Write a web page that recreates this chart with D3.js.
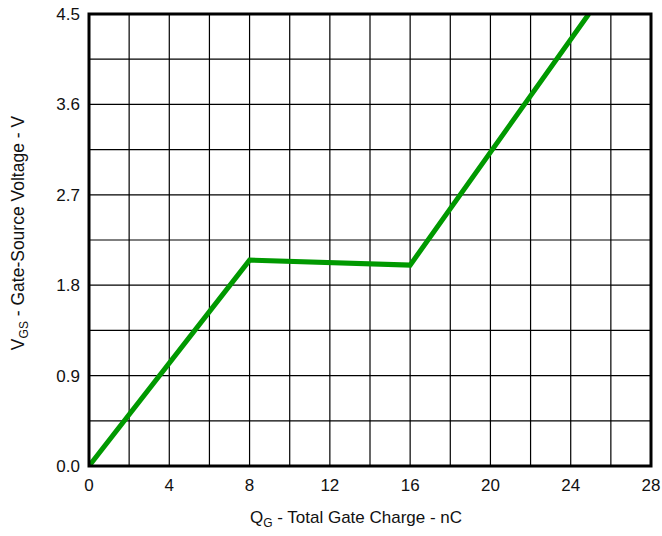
<!DOCTYPE html>
<html>
<head>
<meta charset="utf-8">
<script src="https://cdn.jsdelivr.net/npm/d3@7"></script>
<style>
body { margin: 0; background: #fff; }
text { font-family: "Liberation Sans", Arial, sans-serif; fill: #111; }
</style>
</head>
<body>
<script>
let width = 662
let height = 536
let margin = {top: 14, right: 11, bottom: 70, left: 89}

// gate charge curve
let qg = [0, 8, 16, 24.9]
let vgs = [0, 2.05, 2.0, 4.5]
let xTicks = [0, 4, 8, 12, 16, 20, 24, 28]
let yTicks = [0.0, 0.9, 1.8, 2.7, 3.6, 4.5]

let svg = d3.select("body").append("svg")
    .attr("width", width)
    .attr("height", height)

let pw = width - margin.left - margin.right
let ph = height - margin.top - margin.bottom

let x = d3.scaleLinear().domain([0, 28]).range([margin.left, margin.left + pw])
let y = d3.scaleLinear().domain([0, 4.5]).range([margin.top + ph, margin.top])

let g = svg.append("g")

// grid
g.selectAll(".vg").data(d3.range(2, 28, 2)).enter()
    .append("line")
    .attr("x1", d => x(d)).attr("x2", d => x(d))
    .attr("y1", y(0)).attr("y2", y(4.5))
    .attr("stroke", "#000").attr("stroke-width", 1.2)

g.selectAll(".hg").data(d3.range(1, 10).map(i => i * 0.45)).enter()
    .append("line")
    .attr("x1", x(0)).attr("x2", x(28))
    .attr("y1", d => y(d)).attr("y2", d => y(d))
    .attr("stroke", "#000").attr("stroke-width", 1.2)

// curve
let line = d3.line().x((d, i) => x(qg[i])).y(d => y(d))
svg.append("clipPath").attr("id", "clip")
    .append("rect")
    .attr("x", x(0)).attr("y", y(4.5))
    .attr("width", pw).attr("height", ph)

svg.append("path")
    .datum(vgs)
    .attr("d", line)
    .attr("fill", "none")
    .attr("stroke", "#009900")
    .attr("stroke-width", 5)
    .attr("clip-path", "url(#clip)")

// frame
svg.append("rect")
    .attr("x", x(0)).attr("y", y(4.5))
    .attr("width", pw).attr("height", ph)
    .attr("fill", "none")
    .attr("stroke", "#000")
    .attr("stroke-width", 3)

// tick labels
svg.selectAll(".xt").data(xTicks).enter()
    .append("text")
    .attr("x", d => x(d))
    .attr("y", y(0) + 25)
    .attr("text-anchor", "middle")
    .attr("font-size", 17)
    .text(d => d)

svg.selectAll(".yt").data(yTicks).enter()
    .append("text")
    .attr("x", x(0) - 9)
    .attr("y", d => y(d) + 6)
    .attr("text-anchor", "end")
    .attr("font-size", 17)
    .text(d => d.toFixed(1))

// axis titles
let xt = svg.append("text")
    .attr("x", 356)
    .attr("y", 523)
    .attr("text-anchor", "middle")
    .attr("font-size", 17)
xt.append("tspan").text("Q")
xt.append("tspan").attr("font-size", 12).attr("dy", 4).text("G")
xt.append("tspan").attr("dy", -4).text(" - Total Gate Charge - nC")

let yt = svg.append("text")
    .attr("transform", "translate(24,233) rotate(-90)")
    .attr("text-anchor", "middle")
    .attr("font-size", 17.5)
yt.append("tspan").text("V")
yt.append("tspan").attr("font-size", 12).attr("dy", 4).text("GS")
yt.append("tspan").attr("dy", -4).text(" - Gate-Source Voltage - V")
</script>
</body>
</html>
